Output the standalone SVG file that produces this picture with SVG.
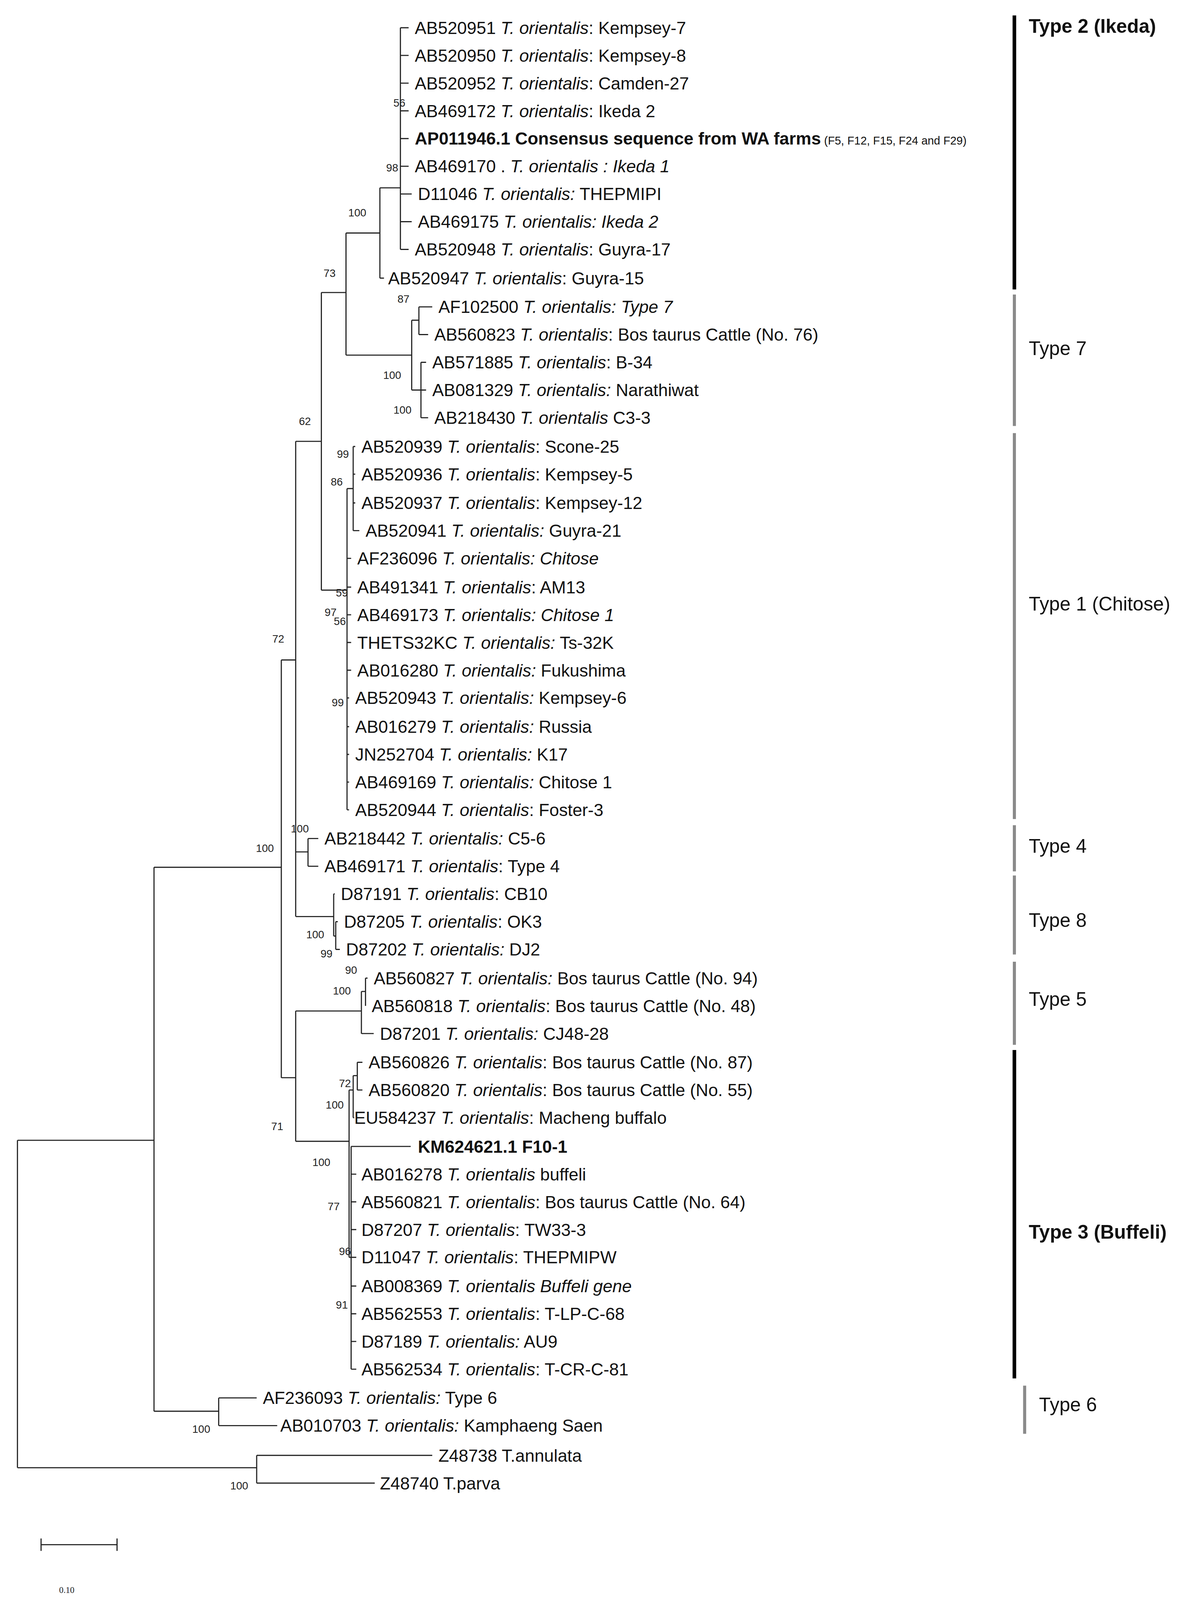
<svg xmlns="http://www.w3.org/2000/svg" width="3071" height="4108" viewBox="0 0 3071 4108">
<style>
.l{font-family:"Liberation Sans",Arial,sans-serif;font-size:16.9px;fill:#111}
.i{font-style:italic}
.b{font-weight:bold}
.bs{font-family:"Liberation Sans",Arial,sans-serif;font-size:10.5px;fill:#222;text-anchor:middle}
.t{font-family:"Liberation Sans",Arial,sans-serif;font-size:18.8px;fill:#111}
.e{stroke:#222;stroke-width:1.1;fill:none}
</style>
<rect width="3071" height="4108" fill="#fff"/>
<g transform="scale(2.6275)">
<g id="connectors" class="e">
<path d="M17,1111V1430M17,1111H150M17,1430H250M250,1418V1445M250,1418H421M250,1445H365"/>
<path d="M150,845V1375M150,845H274M150,1375H213M213,1362V1389M213,1362H250M213,1389H270"/>
<path d="M274,643V1050M274,643H288M274,1050H288"/>
<path d="M288,430V893M288,430H313M288,830H300M288,893H325"/>
<path d="M313,285V575M313,285H337M313,575H338"/>
<path d="M337,227V346M337,227H370M337,346H401"/>
<path d="M370,183V271M370,183H390M370,271H374"/>
<path d="M390,27V243M390,27H398M390,54H398M390,81H398M390,108H398M390,135H398M390,162H398M390,189H401M390,216H401M390,243H398"/>
<path d="M401,312V380M401,312H408M401,380H410M408,299V326M408,299H421M408,326H417M410,353V407M410,353H415M410,380H415M410,407H417"/>
<path d="M338,476V789M338,476H344M344,435V517M344,435H346M344,462H346M344,490H346M344,517H350M338,544H342M338,572H342M338,599H342M338,626H342M338,653H342M338,680H340M338,708H340M338,735H340M338,762H340M338,789H340"/>
<path d="M300,817V844M300,817H310M300,844H310"/>
<path d="M325,871V912M325,871H326M325,912H327M327,898V925M327,898H329M327,925H331"/>
<path d="M288,985V1112M288,985H352M288,1112H340M352,966V1007M352,966H356M352,1007H364M356,953V980M356,953H358M356,980H356"/>
<path d="M340,1062V1225M340,1062H344M340,1225H342M344,1048V1089M344,1048H348M344,1089H345M348,1035V1062M348,1035H353M348,1062H353"/>
<path d="M342,1117V1334M342,1117H400M342,1144H347M342,1171H347M342,1198H347M342,1225H347M342,1253H347M342,1280H347M342,1307H347M342,1334H347"/>
<path d="M40,1505H114M40,1499V1511M114,1499V1511"/>
</g>
<g id="leaves" class="l">
<text x="404" y="33">AB520951 <tspan class="i">T. orientalis</tspan>: Kempsey-7</text>
<text x="404" y="60">AB520950 <tspan class="i">T. orientalis</tspan>: Kempsey-8</text>
<text x="404" y="87">AB520952 <tspan class="i">T. orientalis</tspan>: Camden-27</text>
<text x="404" y="114">AB469172 <tspan class="i">T. orientalis</tspan>: Ikeda 2</text>
<text x="404" y="141"><tspan class="b">AP011946.1 Consensus sequence from WA farms</tspan><tspan font-size="11"> (F5, F12, F15, F24 and F29)</tspan></text>
<text x="404" y="168">AB469170 . <tspan class="i">T. orientalis : Ikeda 1</tspan></text>
<text x="407" y="195">D11046 <tspan class="i">T. orientalis:</tspan> THEPMIPI</text>
<text x="407" y="222">AB469175 <tspan class="i">T. orientalis: Ikeda 2</tspan></text>
<text x="404" y="249">AB520948 <tspan class="i">T. orientalis</tspan>: Guyra-17</text>
<text x="378" y="277">AB520947 <tspan class="i">T. orientalis</tspan>: Guyra-15</text>
<text x="427" y="305">AF102500 <tspan class="i">T. orientalis: Type 7</tspan></text>
<text x="423" y="332">AB560823 <tspan class="i">T. orientalis</tspan>: Bos taurus Cattle (No. 76)</text>
<text x="421" y="359">AB571885 <tspan class="i">T. orientalis</tspan>: B-34</text>
<text x="421" y="386">AB081329 <tspan class="i">T. orientalis:</tspan> Narathiwat</text>
<text x="423" y="413">AB218430 <tspan class="i">T. orientalis</tspan> C3-3</text>
<text x="352" y="441">AB520939 <tspan class="i">T. orientalis</tspan>: Scone-25</text>
<text x="352" y="468">AB520936 <tspan class="i">T. orientalis</tspan>: Kempsey-5</text>
<text x="352" y="496">AB520937 <tspan class="i">T. orientalis</tspan>: Kempsey-12</text>
<text x="356" y="523">AB520941 <tspan class="i">T. orientalis:</tspan> Guyra-21</text>
<text x="348" y="550">AF236096 <tspan class="i">T. orientalis: Chitose</tspan></text>
<text x="348" y="578">AB491341 <tspan class="i">T. orientalis</tspan>: AM13</text>
<text x="348" y="605">AB469173 <tspan class="i">T. orientalis: Chitose 1</tspan></text>
<text x="348" y="632">THETS32KC <tspan class="i">T. orientalis:</tspan> Ts-32K</text>
<text x="348" y="659">AB016280 <tspan class="i">T. orientalis:</tspan> Fukushima</text>
<text x="346" y="686">AB520943 <tspan class="i">T. orientalis:</tspan> Kempsey-6</text>
<text x="346" y="714">AB016279 <tspan class="i">T. orientalis:</tspan> Russia</text>
<text x="346" y="741">JN252704 <tspan class="i">T. orientalis:</tspan> K17</text>
<text x="346" y="768">AB469169 <tspan class="i">T. orientalis:</tspan> Chitose 1</text>
<text x="346" y="795">AB520944 <tspan class="i">T. orientalis</tspan>: Foster-3</text>
<text x="316" y="823">AB218442 <tspan class="i">T. orientalis:</tspan> C5-6</text>
<text x="316" y="850">AB469171 <tspan class="i">T. orientalis</tspan>: Type 4</text>
<text x="332" y="877">D87191 <tspan class="i">T. orientalis</tspan>: CB10</text>
<text x="335" y="904">D87205 <tspan class="i">T. orientalis</tspan>: OK3</text>
<text x="337" y="931">D87202 <tspan class="i">T. orientalis:</tspan> DJ2</text>
<text x="364" y="959">AB560827 <tspan class="i">T. orientalis:</tspan> Bos taurus Cattle (No. 94)</text>
<text x="362" y="986">AB560818 <tspan class="i">T. orientalis</tspan>: Bos taurus Cattle (No. 48)</text>
<text x="370" y="1013">D87201 <tspan class="i">T. orientalis:</tspan> CJ48-28</text>
<text x="359" y="1041">AB560826 <tspan class="i">T. orientalis</tspan>: Bos taurus Cattle (No. 87)</text>
<text x="359" y="1068">AB560820 <tspan class="i">T. orientalis</tspan>: Bos taurus Cattle (No. 55)</text>
<text x="345" y="1095">EU584237 <tspan class="i">T. orientalis</tspan>: Macheng buffalo</text>
<text x="407" y="1123" class="b">KM624621.1 F10-1</text>
<text x="352" y="1150">AB016278 <tspan class="i">T. orientalis</tspan> buffeli</text>
<text x="352" y="1177">AB560821 <tspan class="i">T. orientalis</tspan>: Bos taurus Cattle (No. 64)</text>
<text x="352" y="1204">D87207 <tspan class="i">T. orientalis</tspan>: TW33-3</text>
<text x="352" y="1231">D11047 <tspan class="i">T. orientalis</tspan>: THEPMIPW</text>
<text x="352" y="1259">AB008369 <tspan class="i">T. orientalis Buffeli gene</tspan></text>
<text x="352" y="1286">AB562553 <tspan class="i">T. orientalis</tspan>: T-LP-C-68</text>
<text x="352" y="1313">D87189 <tspan class="i">T. orientalis:</tspan> AU9</text>
<text x="352" y="1340">AB562534 <tspan class="i">T. orientalis</tspan>: T-CR-C-81</text>
<text x="256" y="1368">AF236093 <tspan class="i">T. orientalis:</tspan> Type 6</text>
<text x="273" y="1395">AB010703 <tspan class="i">T. orientalis:</tspan> Kamphaeng Saen</text>
<text x="427" y="1424">Z48738 T.annulata</text>
<text x="370" y="1451">Z48740 T.parva</text>
</g>
<g id="bootstrap" class="bs">
<text x="389" y="104">56</text><text x="382" y="167">98</text><text x="348" y="211">100</text><text x="321" y="270">73</text>
<text x="393" y="295">87</text><text x="382" y="369">100</text><text x="392" y="403">100</text><text x="297" y="414">62</text>
<text x="334" y="446">99</text><text x="328" y="473">86</text><text x="333" y="581">59</text><text x="322" y="600">97</text>
<text x="331" y="609">56</text><text x="329" y="688">99</text><text x="271" y="626">72</text><text x="292" y="811">100</text>
<text x="258" y="830">100</text><text x="307" y="914">100</text><text x="318" y="933">99</text><text x="342" y="949">90</text>
<text x="333" y="969">100</text><text x="336" y="1059">72</text><text x="326" y="1080">100</text><text x="270" y="1101">71</text>
<text x="313" y="1136">100</text><text x="325" y="1179">77</text><text x="336" y="1223">96</text><text x="333" y="1275">91</text>
<text x="196" y="1396">100</text><text x="233" y="1451">100</text>
<text x="65" y="1552" font-family="Liberation Serif,serif" font-size="8.5">0.10</text>
</g>
<g id="types">
<path d="M988,15V282M988,1023V1343" stroke="#000" stroke-width="3.5"/>
<path d="M988,287V415M988,422V798M988,804V849M988,853V930M988,937V1018M998,1350V1397" stroke="#8a8a8a" stroke-width="3"/>
<text class="t b" x="1002" y="32">Type 2 (Ikeda)</text>
<text class="t" x="1002" y="346">Type 7</text>
<text class="t" x="1002" y="595">Type 1 (Chitose)</text>
<text class="t" x="1002" y="831">Type 4</text>
<text class="t" x="1002" y="903">Type 8</text>
<text class="t" x="1002" y="980">Type 5</text>
<text class="t b" x="1002" y="1207">Type 3 (Buffeli)</text>
<text class="t" x="1012" y="1375">Type 6</text>
</g>
</g>
</svg>
